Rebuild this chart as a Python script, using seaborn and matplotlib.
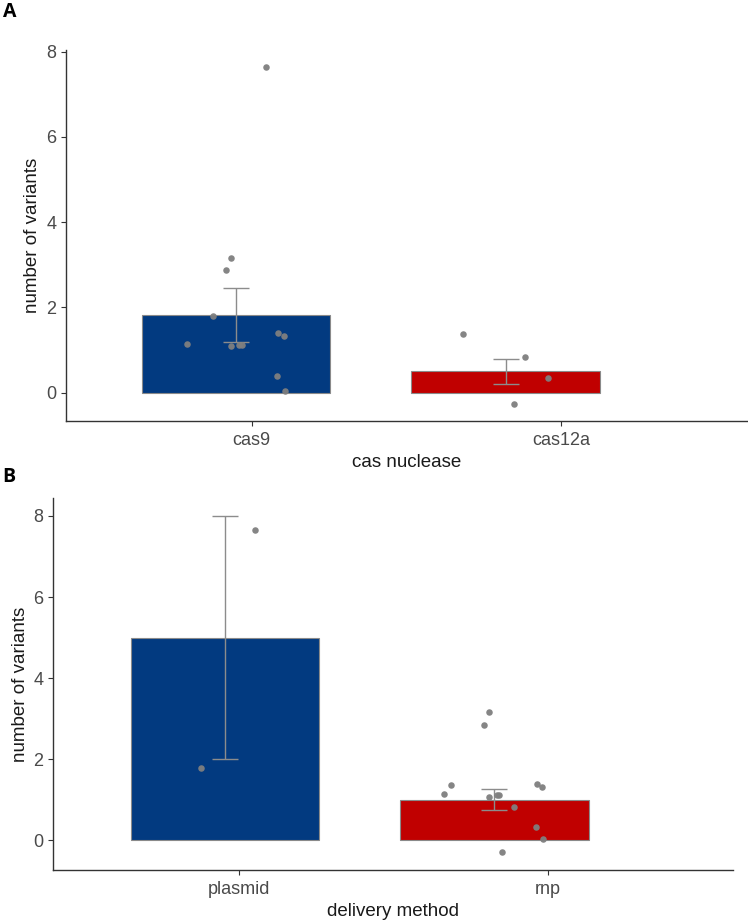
import numpy as np
import pandas as pd
import matplotlib
matplotlib.use("Agg")
import matplotlib.pyplot as plt
import seaborn as sns

# ---------------- data ----------------
nuclease_cats = ["cas9", "cas12a"]
nuclease_means = [1.83, 0.50]
nuclease_se = [0.63, 0.29]
cas9_points = [7.65, 3.17, 2.87, 1.81, 1.15, 1.10, 1.13, 1.13, 1.40, 1.32, 0.39, 0.04]
cas9_jitter = [0.112, -0.019, -0.037, -0.086, -0.183, -0.019, 0.012, 0.021, 0.155, 0.177, 0.151, 0.181]
cas12a_points = [1.38, 0.85, 0.34, -0.27]
cas12a_jitter = [-0.159, 0.071, 0.158, 0.030]

delivery_cats = ["plasmid", "rnp"]
delivery_means = [5.0, 1.0]
delivery_se = [3.0, 0.26]
plasmid_points = [7.64, 1.79]
plasmid_jitter = [0.111, -0.088]
rnp_points = [3.17, 2.85, 1.37, 1.14, 1.06, 1.11, 1.11, 0.82, 1.39, 1.31, 0.33, 0.03, -0.29]
rnp_jitter = [-0.020, -0.038, -0.160, -0.186, -0.020, 0.009, 0.017, 0.072, 0.157, 0.176, 0.155, 0.180, 0.030]

y_ticks = [0, 2, 4, 6, 8]
bar_colors = ["#023A80", "#C00000"]

# ---------------- style ----------------
sns.set_theme(style="white")
plt.rcParams["font.family"] = ["Liberation Sans", "DejaVu Sans"]

W, H = 748, 922
fig = plt.figure(figsize=(W / 100, H / 100), dpi=100)


def frac_rect(left, top, right, bottom):
    return [left / W, 1 - bottom / H, (right - left) / W, (bottom - top) / H]


axA = fig.add_axes(frac_rect(65.7, 50, 747, 421.3))
axB = fig.add_axes(frac_rect(53, 498, 733, 870))


def panel(ax, cats, means, ses, groups, xlabel, ylim, xlim, tick_pos):
    df = pd.DataFrame({"cat": cats, "mean": means})
    sns.barplot(data=df, x="cat", y="mean", hue="cat", palette=bar_colors,
                saturation=1, width=0.7, edgecolor="#8a8a8a", linewidth=0.8,
                errorbar=None, legend=False, ax=ax, zorder=1)
    ax.errorbar(np.arange(len(cats)), means, yerr=ses, fmt="none",
                ecolor="#8c8c8c", elinewidth=1.0, capsize=9.7, capthick=1.0, zorder=2)
    for i, (pts, jit) in enumerate(groups):
        ax.scatter(i + np.array(jit), pts, s=22, color="#7f7f7f",
                   linewidths=0, zorder=3, alpha=0.95)
    ax.set_xlim(*xlim)
    ax.set_ylim(*ylim)
    ax.set_yticks(y_ticks)
    ax.set_xticks(tick_pos, labels=cats)
    sns.despine(ax=ax)
    for s in ("left", "bottom"):
        ax.spines[s].set_color("#333333")
        ax.spines[s].set_linewidth(1.0)
    ax.tick_params(axis="both", which="major", length=3.8, width=0.8,
                   color="#333333", labelcolor="#4a4a4a", labelsize=13,
                   direction="out", left=True, bottom=True)
    ax.tick_params(axis="y", pad=3)
    ax.tick_params(axis="x", pad=4)
    ax.set_xlabel(xlabel, fontsize=13.5, color="#1a1a1a")
    ax.set_ylabel("number of variants", fontsize=13.5, color="#1a1a1a")
    ax.xaxis.set_label_coords(0.5, -0.111)
    ax.xaxis.label.set_va("center")
    ax.yaxis.set_label_coords(-0.048, 0.5)
    ax.yaxis.label.set_va("center")
    ax.grid(False)


panel(axA, nuclease_cats, nuclease_means, nuclease_se,
      [(cas9_points, cas9_jitter), (cas12a_points, cas12a_jitter)],
      "cas nuclease", (-0.67, 8.04), (-0.632, 1.896), [0.0575, 1.206])
panel(axB, delivery_cats, delivery_means, delivery_se,
      [(plasmid_points, plasmid_jitter), (rnp_points, rnp_jitter)],
      "delivery method", (-0.727, 8.44), (-0.639, 1.886), [0.050, 1.198])

fig.text(10 / W, 1 - 12 / H, "A", fontsize=14, fontweight="bold",
         family=["Open Sans", "DejaVu Sans"], ha="center", va="center", color="black")
fig.text(9 / W, 1 - 477 / H, "B", fontsize=14, fontweight="bold",
         family=["Open Sans", "DejaVu Sans"], ha="center", va="center", color="black")

fig.savefig("out.png", dpi=100)
